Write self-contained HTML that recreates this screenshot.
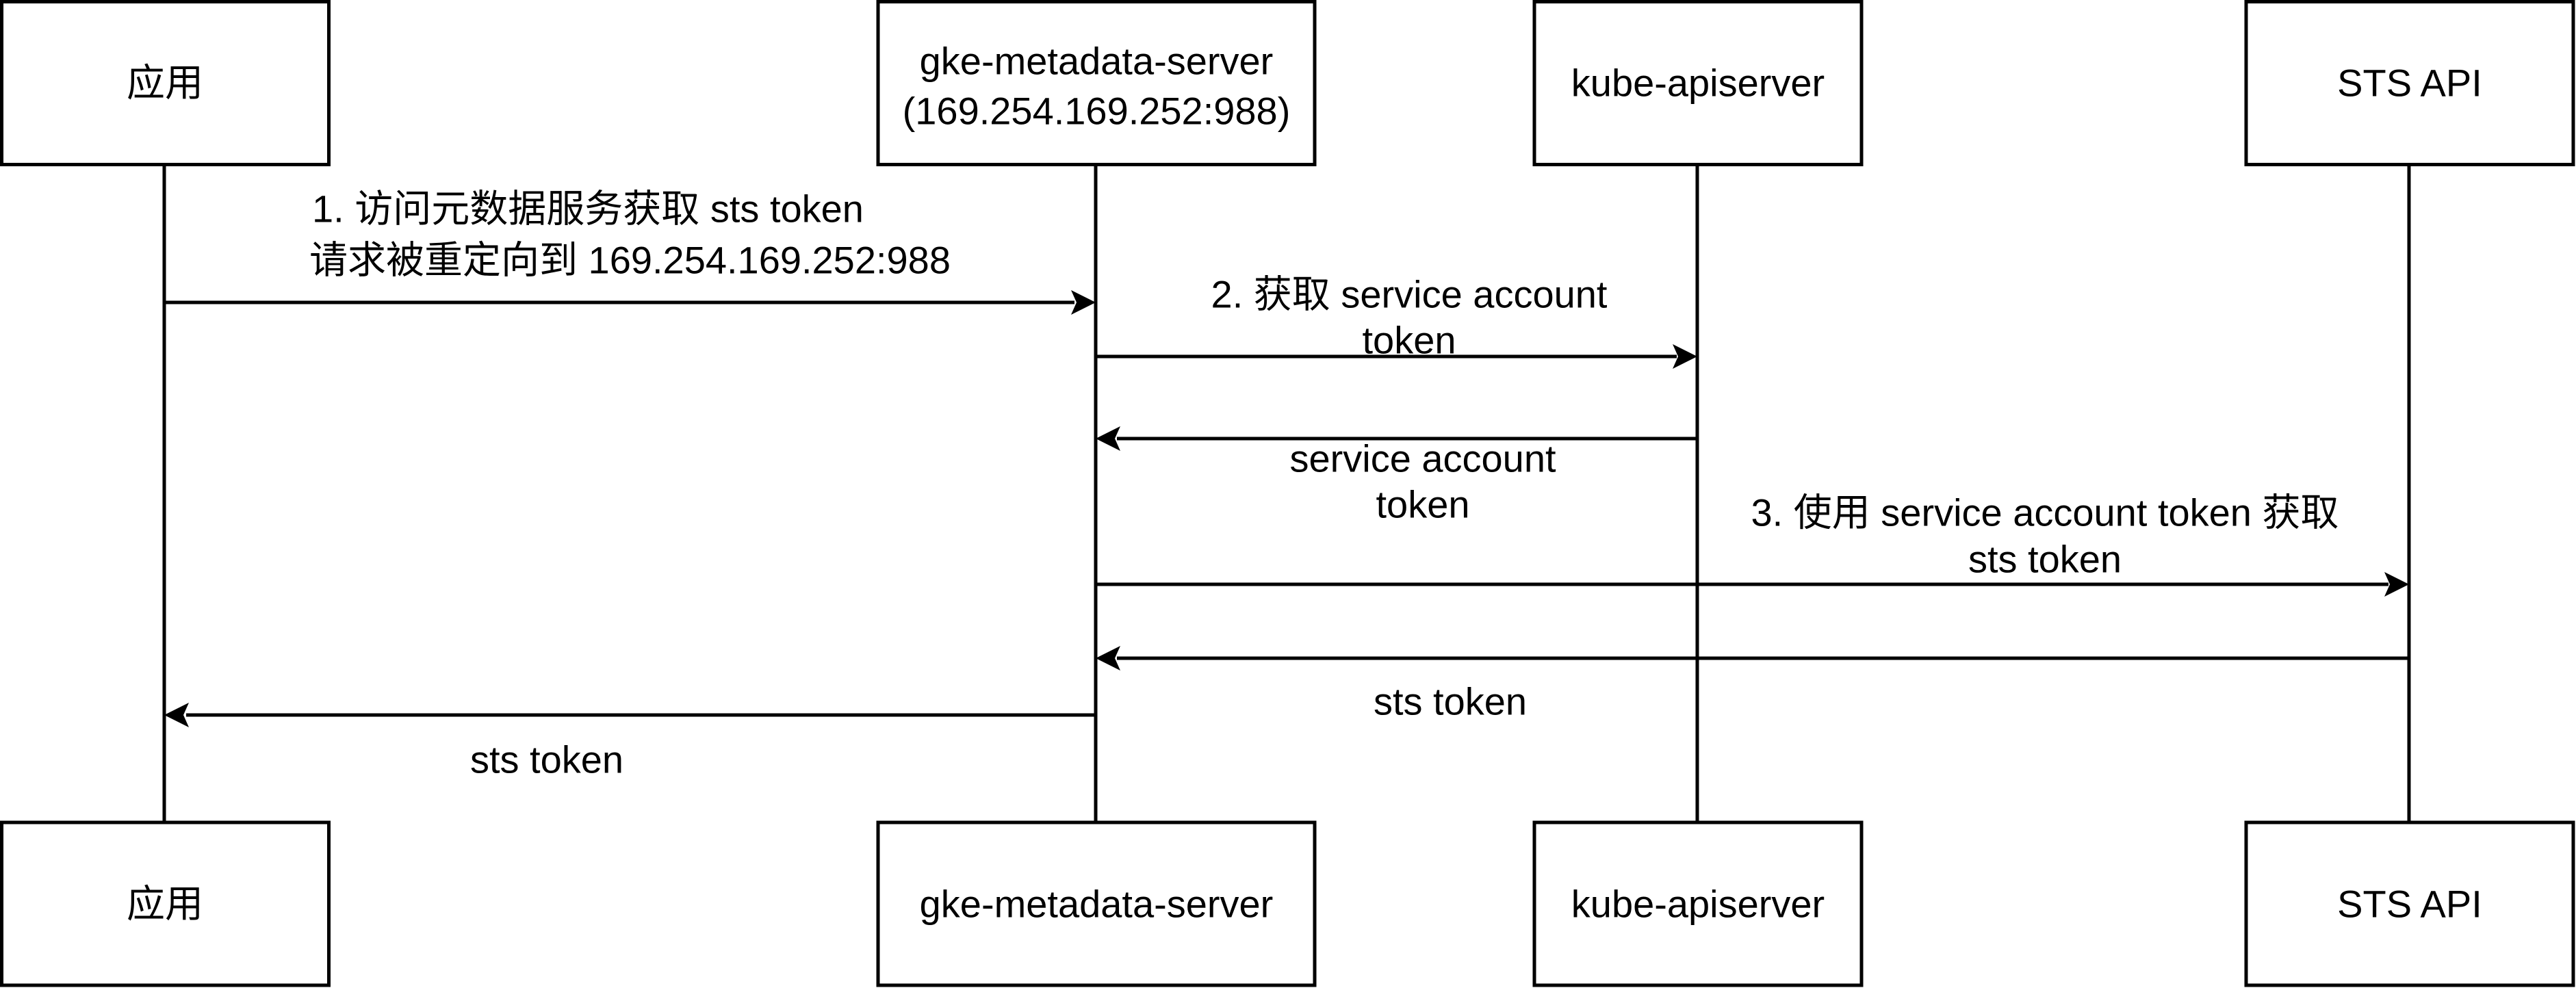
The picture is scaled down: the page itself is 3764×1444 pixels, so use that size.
<!DOCTYPE html>
<html><head><meta charset="utf-8"><style>
html,body{margin:0;padding:0;background:#fff;}
svg{display:block;}
text{font-family:"Liberation Sans","Noto Sans CJK SC",sans-serif;font-size:56px;fill:#000;text-anchor:middle;dominant-baseline:central;}
</style></head><body>
<svg width="3764" height="1444" viewBox="0 0 3764 1444" xmlns="http://www.w3.org/2000/svg">
<g stroke="#000" stroke-width="5" fill="none">
<line x1="240" y1="240" x2="240" y2="1202"/>
<line x1="1601" y1="240" x2="1601" y2="1202"/>
<line x1="2480" y1="240" x2="2480" y2="1202"/>
<line x1="3520" y1="240" x2="3520" y2="1202"/>
<rect x="2.5" y="2.5" width="478" height="238" fill="#fff"/>
<rect x="1283" y="2.5" width="638" height="238" fill="#fff"/>
<rect x="2242" y="2.5" width="478" height="238" fill="#fff"/>
<rect x="3282" y="2.5" width="478" height="238" fill="#fff"/>
<rect x="2.5" y="1202" width="478" height="238" fill="#fff"/>
<rect x="1283" y="1202" width="638" height="238" fill="#fff"/>
<rect x="2242" y="1202" width="478" height="238" fill="#fff"/>
<rect x="3282" y="1202" width="478" height="238" fill="#fff"/>
<line x1="240" y1="442" x2="1570" y2="442"/>
<line x1="1601" y1="521" x2="2450" y2="521"/>
<line x1="2480" y1="641" x2="1632" y2="641"/>
<line x1="1601" y1="854" x2="3490" y2="854"/>
<line x1="3520" y1="962" x2="1632" y2="962"/>
<line x1="1601" y1="1045" x2="272" y2="1045"/>
</g>
<g fill="#000">
<polygon points="1601,442 1565,424 1573,442 1565,460"/>
<polygon points="2480,521 2444,503 2452,521 2444,539"/>
<polygon points="1601,641 1637,623 1629,641 1637,659"/>
<polygon points="3520,854 3484,836 3492,854 3484,872"/>
<polygon points="1601,962 1637,944 1629,962 1637,980"/>
<polygon points="240,1045 276,1027 268,1045 276,1063"/>
</g>
<text x="241" y="121">应用</text>
<text x="1602" y="89">gke-metadata-server</text>
<text x="1602" y="162">(169.254.169.252:988)</text>
<text x="2481" y="121">kube-apiserver</text>
<text x="3521" y="121">STS API</text>
<text x="241" y="1321">应用</text>
<text x="1602" y="1321">gke-metadata-server</text>
<text x="2481" y="1321">kube-apiserver</text>
<text x="3521" y="1321">STS API</text>
<text x="456" y="305" style="text-anchor:start">1. 访问元数据服务获取 sts token</text>
<text x="452" y="380" style="text-anchor:start">请求被重定向到 169.254.169.252:988</text>
<text x="2059" y="430">2. 获取 service account</text>
<text x="2059" y="497">token</text>
<text x="2079" y="670">service account</text>
<text x="2079" y="737">token</text>
<text x="2988" y="749">3. 使用 service account token 获取</text>
<text x="2988" y="817">sts token</text>
<text x="2119" y="1025">sts token</text>
<text x="799" y="1110">sts token</text>
</svg>
</body></html>
